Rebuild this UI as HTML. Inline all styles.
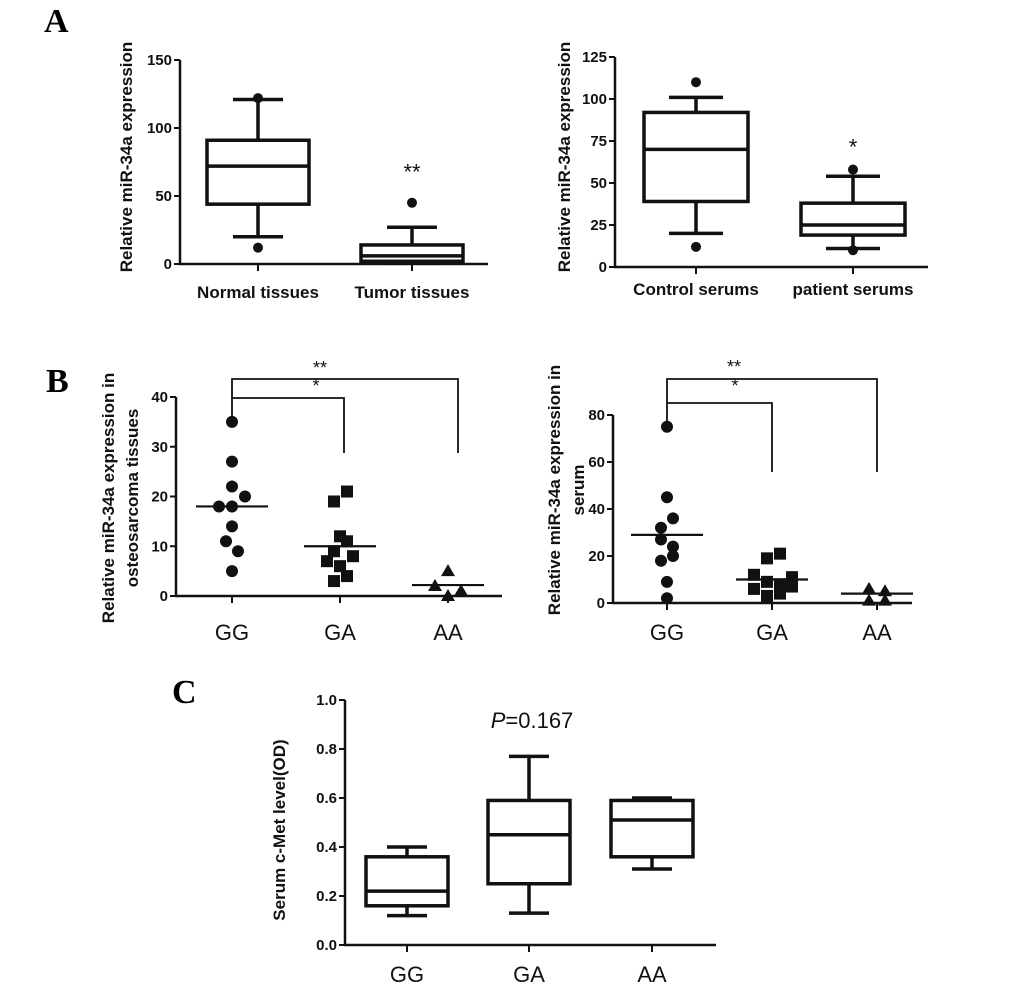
<!DOCTYPE html>
<html><head><meta charset="utf-8"><style>
html,body{margin:0;padding:0;background:#fff;}
svg{display:block;font-family:"Liberation Sans",sans-serif;}
</style></head><body>
<svg id="fig" width="1033" height="993" viewBox="0 0 1033 993">
<text x="44" y="32" font-family="Liberation Serif" font-weight="bold" font-size="34">A</text>
<text x="46" y="392" font-family="Liberation Serif" font-weight="bold" font-size="34">B</text>
<text x="172" y="703" font-family="Liberation Serif" font-weight="bold" font-size="34">C</text>
</svg>
<script>
// ---- data ----
const a1Cats = ["Normal tissues","Tumor tissues"];
const a1Box = [[20,44,72,91,121],[1,2,6,14,27]];
const a1Out = [[12,122],[45]];
const a1Ticks = [0,50,100,150];
const a2Cats = ["Control serums","patient serums"];
const a2Box = [[20,39,70,92,101],[11,19,25,38,54]];
const a2Out = [[12,110],[10,58]];
const a2Ticks = [0,25,50,75,100,125];
const bCats = ["GG","GA","AA"];
const b1GG = [35,27,22,20,18,18,14,11,9,5];
const b1GA = [19,21,12,11,9,7,8,6,3,4];
const b1AA = [5,2,1,0];
const b1Med = [18,10,2.2];
const b1Ticks = [0,10,20,30,40];
const b2GG = [75,45,36,32,27,24,20,18,9,2];
const b2GA = [21,19,12,11,9,8,7,6,4,3];
const b2AA = [6,5,1,1];
const b2Med = [29,10,4];
const b2Ticks = [0,20,40,60,80];
const cBox = [[0.12,0.16,0.22,0.36,0.40],[0.13,0.25,0.45,0.59,0.77],[0.31,0.36,0.51,0.59,0.60]];
const cTicks = [0,0.2,0.4,0.6,0.8,1.0];
// jitter offsets (layout only)
const b1Jit=[[0,0,0,13,-13,0,0,-6,6,0],[-6,7,0,7,-6,-13,13,0,-6,7],[0,-13,13,0]];
const b2Jit=[[0,0,6,-6,-6,6,6,-6,0,0],[8,-5,-18,20,-5,8,20,-18,8,-5],[-8,8,-8,8]];

const svg=document.getElementById('fig');
const NS='http://www.w3.org/2000/svg';
function el(tag,attrs,parent){const e=document.createElementNS(NS,tag);for(const k in attrs)e.setAttribute(k,attrs[k]);(parent||svg).appendChild(e);return e;}
function txt(x,y,s,attrs,name){const t=el('text',Object.assign({x:x,y:y},attrs));t.textContent=s;


return t;}

function axes(o){
  const g=el('g',{});
  
  
  const y=v=>o.y0+(v-o.vmin)/(o.vmax-o.vmin)*(o.y1-o.y0);
  el('line',{x1:o.ax,y1:o.y0+1,x2:o.ax,y2:o.y1,stroke:'#111','stroke-width':2.5},g);
  el('line',{x1:o.ax-1,y1:o.y0,x2:o.xend,y2:o.y0,stroke:'#111','stroke-width':2.5},g);
  o.ticks.forEach(t=>{const yy=y(t);
    el('line',{x1:o.ax-6,y1:yy,x2:o.ax,y2:yy,stroke:'#111','stroke-width':2},g);
    txt(o.ax-8,yy+5,o.fmt?o.fmt(t):String(t),{'text-anchor':'end','font-weight':'bold','font-size':15,fill:'#111'},'y-tick-label');});
  o.cx.forEach((c,i)=>{el('line',{x1:c,y1:o.y0,x2:c,y2:o.y0+7,stroke:'#111','stroke-width':2},g);
    txt(c,o.labY,o.cats[i],{'text-anchor':'middle','font-weight':o.catBold?'bold':'normal','font-size':o.catSize,fill:'#111'},'x-category-label');});
  o.title.forEach((s,i)=>{const tx=o.titleX[i];
    txt(tx,o.titleY,s,{'text-anchor':'middle','font-weight':'bold','font-size':17,fill:'#111',transform:'rotate(-90 '+tx+' '+o.titleY+')'},'y-axis-title');});
  return y;
}
function box(y,cx,hw,cap,d,name){
  const g=el('g',{});
  
  
  const sw=3.5;
  el('line',{x1:cx,y1:y(d[0]),x2:cx,y2:y(d[1]),stroke:'#111','stroke-width':sw},g);
  el('line',{x1:cx,y1:y(d[3]),x2:cx,y2:y(d[4]),stroke:'#111','stroke-width':sw},g);
  el('line',{x1:cx-cap,y1:y(d[0]),x2:cx+cap,y2:y(d[0]),stroke:'#111','stroke-width':sw},g);
  el('line',{x1:cx-cap,y1:y(d[4]),x2:cx+cap,y2:y(d[4]),stroke:'#111','stroke-width':sw},g);
  el('rect',{x:cx-hw,y:y(d[3]),width:2*hw,height:y(d[1])-y(d[3]),fill:'none',stroke:'#111','stroke-width':sw},g);
  el('line',{x1:cx-hw,y1:y(d[2]),x2:cx+hw,y2:y(d[2]),stroke:'#111','stroke-width':sw},g);
}
function dot(x,yy,r,name){const c=el('circle',{cx:x,cy:yy,r:r,fill:'#111'});
  
  }
function sq(x,yy,name){const c=el('rect',{x:x-6,y:yy-6,width:12,height:12,fill:'#111'});
  
  }
function tri(x,yy,name){const c=el('polygon',{points:(x)+','+(yy-7)+' '+(x-7)+','+(yy+5)+' '+(x+7)+','+(yy+5),fill:'#111'});
  
  }
function star(x,yy,s,size,name){txt(x,yy,s,{'text-anchor':'middle','font-size':size,fill:'#111'},name);}

// ---- Panel A left ----
{const cx=[258,412];
 const y=axes({name:'panel-a-tissue-axes',ax:180,xend:488,y0:264,y1:60,vmin:0,vmax:150,ticks:a1Ticks,cx:cx,cats:a1Cats,labY:298,catBold:true,catSize:17,title:['Relative miR-34a expression'],titleX:[132],titleY:157});
 a1Box.forEach((d,i)=>box(y,cx[i],51,25,d,'box-'+i));
 a1Out.forEach((arr,i)=>arr.forEach(v=>dot(cx[i],y(v),5,'outlier-point')));
 star(412,y(62),'**',22,'significance-stars');}
// ---- Panel A right ----
{const cx=[696,853];
 const y=axes({name:'panel-a-serum-axes',ax:615,xend:928,y0:267,y1:57,vmin:0,vmax:125,ticks:a2Ticks,cx:cx,cats:a2Cats,labY:295,catBold:true,catSize:17,title:['Relative miR-34a expression'],titleX:[570],titleY:157});
 a2Box.forEach((d,i)=>box(y,cx[i],52,27,d,'box-'+i));
 a2Out.forEach((arr,i)=>arr.forEach(v=>dot(cx[i],y(v),5,'outlier-point')));
 star(853,y(67),'*',22,'significance-star');}
// ---- Panel B left ----
function bracket(x0,x1,x2,yTop,yIn,yDrop,name){
  const g=el('g',{});
  
  
  el('polyline',{points:x0+','+(yIn+20)+' '+x0+','+yTop+' '+x2+','+yTop+' '+x2+','+yDrop,fill:'none',stroke:'#111','stroke-width':1.8},g);
  el('polyline',{points:x0+','+yIn+' '+x1+','+yIn+' '+x1+','+yDrop,fill:'none',stroke:'#111','stroke-width':1.8},g);
}
{const cx=[232,340,448];
 const y=axes({name:'panel-b-tissue-axes',ax:176,xend:502,y0:596,y1:397,vmin:0,vmax:40,ticks:b1Ticks,cx:cx,cats:bCats,labY:640,catBold:false,catSize:22,title:['Relative miR-34a expression in','osteosarcoma tissues'],titleX:[114,138],titleY:498});
 bracket(232,344,458,379,398,453,'significance-bracket');
 star(320,374,'**',18,'significance-stars');star(316,392,'*',18,'significance-star');
 b1GG.forEach((v,i)=>dot(cx[0]+b1Jit[0][i],y(v),6,'gg-point'));
 b1GA.forEach((v,i)=>sq(cx[1]+b1Jit[1][i],y(v),'ga-point'));
 b1AA.forEach((v,i)=>tri(cx[2]+b1Jit[2][i],y(v),'aa-point'));
 b1Med.forEach((m,i)=>{const l=el('line',{x1:cx[i]-36,y1:y(m),x2:cx[i]+36,y2:y(m),stroke:'#111','stroke-width':2.2});
   
   });}
// ---- Panel B right ----
{const cx=[667,772,877];
 const y=axes({name:'panel-b-serum-axes',ax:613,xend:912,y0:603,y1:415,vmin:0,vmax:80,ticks:b2Ticks,cx:cx,cats:bCats,labY:640,catBold:false,catSize:22,title:['Relative miR-34a expression in','serum'],titleX:[560,584],titleY:490});
 bracket(667,772,877,379,403,472,'significance-bracket');
 star(734,373,'**',18,'significance-stars');star(735,392,'*',18,'significance-star');
 b2GG.forEach((v,i)=>dot(cx[0]+b2Jit[0][i],y(v),6,'gg-point'));
 b2GA.forEach((v,i)=>sq(cx[1]+b2Jit[1][i],y(v),'ga-point'));
 b2AA.forEach((v,i)=>tri(cx[2]+b2Jit[2][i],y(v),'aa-point'));
 b2Med.forEach((m,i)=>{const l=el('line',{x1:cx[i]-36,y1:y(m),x2:cx[i]+36,y2:y(m),stroke:'#111','stroke-width':2.2});
   
   });}
// ---- Panel C ----
{const cx=[407,529,652];
 const y=axes({name:'panel-c-axes',ax:345,xend:716,y0:945,y1:700,vmin:0,vmax:1,ticks:cTicks,cx:cx,cats:bCats,labY:982,catBold:false,catSize:22,fmt:t=>t.toFixed(1),title:['Serum c-Met level(OD)'],titleX:[285],titleY:830});
 cBox.forEach((d,i)=>box(y,cx[i],41,20,d,'box-'+bCats[i].toLowerCase()));
 const p=txt(532,728,'',{'text-anchor':'middle','font-size':22,fill:'#111'},'p-value-label');
 p.innerHTML='<tspan font-style="italic">P</tspan>=0.167';}
</script>
</body></html>
